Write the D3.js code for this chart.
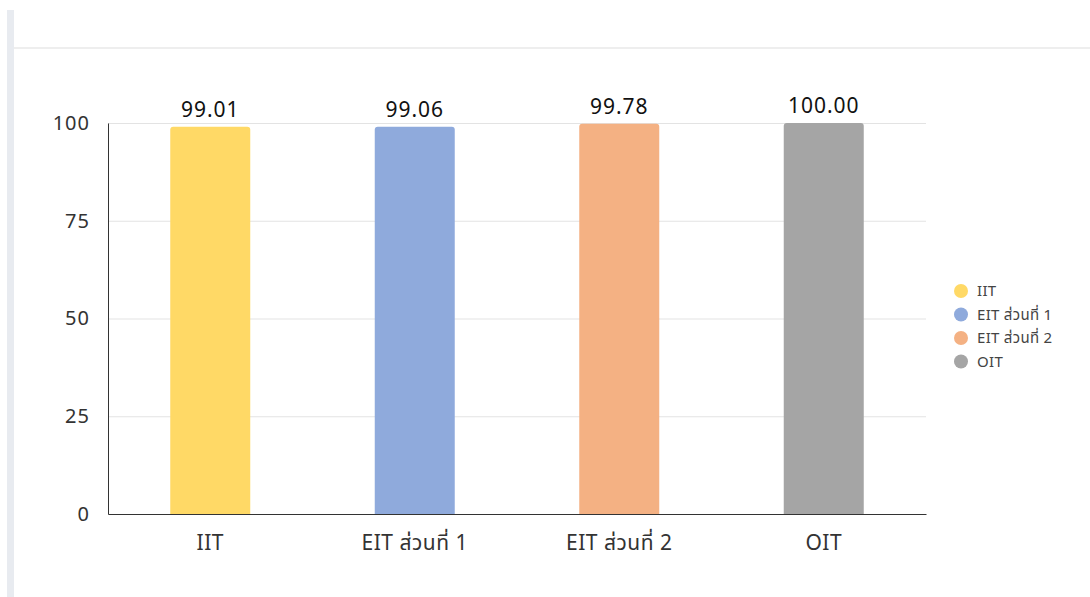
<!DOCTYPE html>
<html><head><meta charset="utf-8">
<script src="https://cdn.jsdelivr.net/npm/d3@7"></script>
<style>
html,body{margin:0;padding:0;background:#fff;}
svg{display:block;font-family:"Noto Sans","Noto Sans Thai",sans-serif;}
</style></head>
<body>
<svg id="c" width="1090" height="597"></svg>
<script>
const categories = ["IIT", "EIT ส่วนที่ 1", "EIT ส่วนที่ 2", "OIT"];
const values = [99.01, 99.06, 99.78, 100.00];
const colors = ["#FFD966", "#8FAADC", "#F4B183", "#A5A5A5"];
const yTicks = [0, 25, 50, 75, 100];

const svg = d3.select("#c");
// frame decorations
svg.append("rect").attr("x", 7).attr("y", 10).attr("width", 7).attr("height", 587).attr("fill", "#e8ebf0");
svg.append("rect").attr("x", 14).attr("y", 47).attr("width", 1076).attr("height", 2).attr("fill", "#eeeeee");

const m = {left: 108, right: 926, top: 123, bottom: 514};
const p = 1 - 80 / 204.5;
const x = d3.scaleBand().domain(categories).range([m.left, m.right]).paddingInner(p).paddingOuter(p / 2);
const y = d3.scaleLinear().domain([0, 100]).range([m.bottom, m.top]);

// gridlines
svg.append("g").selectAll("line").data(yTicks.filter(d => d > 0)).join("line")
  .attr("x1", m.left).attr("x2", m.right)
  .attr("y1", d => y(d) + 0.5).attr("y2", d => y(d) + 0.5)
  .attr("stroke", "#e3e3e3").attr("stroke-width", 1);

// y axis
const ya = svg.append("g").attr("transform", `translate(${m.left},0)`)
  .call(d3.axisLeft(y).tickValues(yTicks).tickSize(0).tickPadding(18));
ya.select(".domain").attr("stroke", "#333");
ya.selectAll("text").attr("font-size", 20).attr("letter-spacing", 1).attr("fill", "#333").attr("font-family", "Noto Sans, sans-serif");

// bars with rounded top
const r = 3;
svg.append("g").selectAll("path").data(categories).join("path")
  .attr("d", (c, i) => {
    const x0 = x(c), w = x.bandwidth(), y0 = y(values[i]), yb = y(0);
    return `M${x0},${yb}V${y0 + r}Q${x0},${y0} ${x0 + r},${y0}H${x0 + w - r}Q${x0 + w},${y0} ${x0 + w},${y0 + r}V${yb}Z`;
  })
  .attr("fill", (c, i) => colors[i]);

// value labels
svg.append("g").selectAll("text").data(categories).join("text")
  .attr("x", c => x(c) + x.bandwidth() / 2)
  .attr("y", (c, i) => y(values[i]) - 10)
  .attr("text-anchor", "middle").attr("font-size", 21).attr("letter-spacing", 1).attr("fill", "#111")
  .text((c, i) => values[i].toFixed(2));

// x axis
const xa = svg.append("g").attr("transform", `translate(0,${m.bottom})`)
  .call(d3.axisBottom(x).tickSize(0).tickPadding(21));
xa.select(".domain").attr("stroke", "#333");
xa.selectAll("text").attr("font-size", 21).attr("letter-spacing", 0.5).attr("fill", "#333").attr("font-family", "Noto Sans, Noto Sans Thai, sans-serif");

// legend
const lg = svg.append("g").attr("transform", "translate(961,291)");
const li = lg.selectAll("g").data(categories).join("g").attr("transform", (d, i) => `translate(0,${i * 23.5})`);
li.append("circle").attr("r", 7).attr("fill", (d, i) => colors[i]);
li.append("text").attr("x", 16).attr("dy", "0.35em").attr("font-size", 15).attr("letter-spacing", 0.3).attr("fill", "#444").text(d => d);
</script>
</body></html>
